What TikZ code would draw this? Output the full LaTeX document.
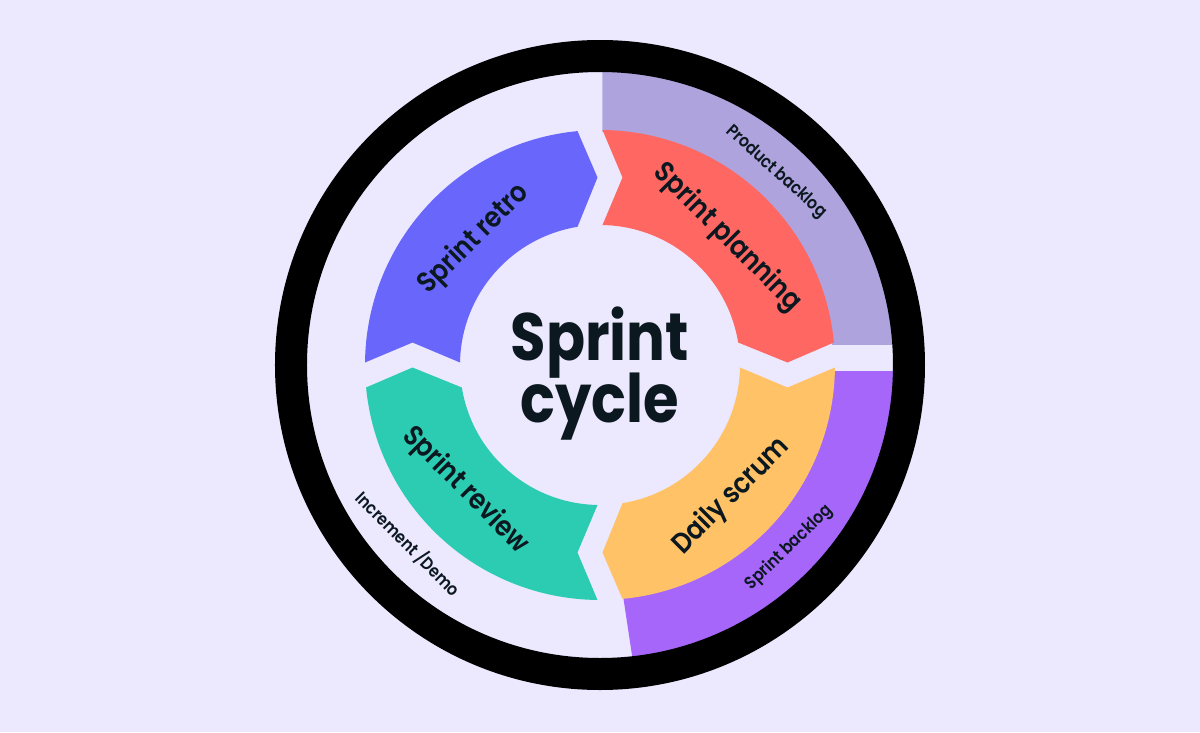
\documentclass[tikz,border=0pt]{standalone}
\usepackage{fontspec}
\newfontfamily\semib{Poppins SemiBold}[FakeStretch=0.88]
\newfontfamily\boldf{Poppins Bold}[FakeStretch=0.86]
\definecolor{bgc}{HTML}{ECE8FE}
\definecolor{bandA}{HTML}{AEA3DD}
\definecolor{bandB}{HTML}{A666FA}
\definecolor{cRed}{HTML}{FF6762}
\definecolor{cBlu}{HTML}{6966FB}
\definecolor{cGrn}{HTML}{2BCCB1}
\definecolor{cYel}{HTML}{FFC266}
\definecolor{cTxt}{HTML}{0C1820}
\begin{document}
\begin{tikzpicture}[x=1pt,y=1pt,
  ltxt/.style={font=\semib\fontsize{28.5}{30}\selectfont, text=cTxt, inner sep=0pt},
  stxt/.style={font=\semib\fontsize{17.5}{20}\selectfont, text=cTxt, inner sep=0pt},
  ctxt/.style={font=\boldf\fontsize{67}{70}\selectfont, text=cTxt, inner sep=0pt, anchor=base}]
\useasboundingbox (-600,-367) rectangle (600,365);
\fill[bgc] (-600,-367) rectangle (600,365);
% outer bands
\begin{scope}
  \clip (2.5,21) rectangle (400,400);
  \fill[bandA, even odd rule] (0,0) circle[radius=300] circle[radius=233];
\end{scope}
\begin{scope}
  \clip (-10.9,-6) -- (400,-6) -- (400,-400) -- (48.6,-400) -- cycle;
  \fill[bandB, even odd rule] (0,0) circle[radius=300] circle[radius=233];
\end{scope}
% black ring
\draw[line width=32pt, black] (0,0) circle[radius=309];
% arrow segments
\foreach \r/\c in {0/cRed,-90/cYel,180/cGrn,90/cBlu}{
  \fill[\c, rotate=\r] (89.39:235) arc[start angle=89.39, end angle=5.494, radius=235]
     -- (187.5,2.5) -- (9.248:140) arc[start angle=9.248, end angle=88.977, radius=140]
     -- (22.5,187.5) -- cycle;
}
% labels
\node[ltxt, rotate=45] (retro) at (135:178) {Sprint retro};
\node[ltxt, rotate=-45] (plan) at (45:180) {Sprint planning};
\node[ltxt, rotate=45] (daily) at (-45:186) {Daily scrum};
\node[ltxt, rotate=-45] (review) at (223:184) {Sprint review};
\node[stxt, rotate=-42] (pb) at (47.6:261) {Product backlog};
\node[stxt, rotate=44] (sb) at (-44:263) {Sprint backlog};
\node[stxt, rotate=-45] (inc) at (223:262) {Increment /Demo};
\node[ctxt] (t1) at (0,5) {Sprint};
\node[ctxt] (t2) at (0,-57) {cycle};
\end{tikzpicture}
\end{document}
